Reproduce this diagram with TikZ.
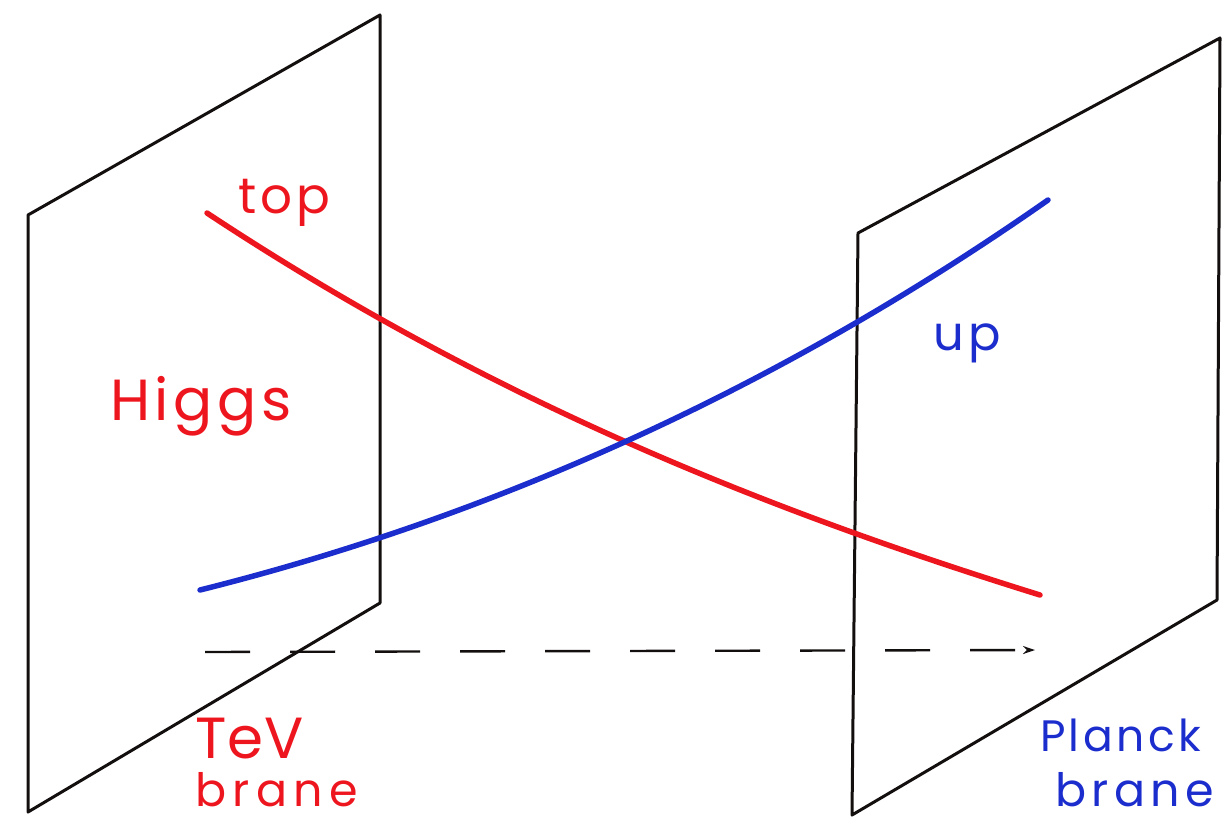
\documentclass[tikz,border=0pt]{standalone}
\usepackage{fontspec}
\setmainfont{Poppins}
\usetikzlibrary{arrows.meta}
\definecolor{pen}{RGB}{20,15,15}
\definecolor{redink}{RGB}{238,22,30}
\definecolor{blueink}{RGB}{28,45,205}
\newcommand\hw[3]{\fontsize{#1}{#1}\selectfont\addfontfeatures{LetterSpace=#2}#3}
\begin{document}
\begin{tikzpicture}[x=1pt,y=-1pt,
  plane/.style={draw=pen,line width=3pt,line join=round},
  field/.style={line width=5.5pt,line cap=round},
  lab/.style={anchor=base west,inner sep=0pt,outer sep=0pt},
  gap/.style={draw=pen,line width=2.4pt,dash pattern=on 45pt off 40pt,-{Stealth[length=12pt,width=8pt]}}]
\useasboundingbox (0,0) rectangle (1226,823);
% TeV brane
\coordinate (t1) at (28,215);
\coordinate (t2) at (380,15);
\coordinate (t3) at (380,603);
\coordinate (t4) at (28,812);
% Planck brane
\coordinate (p1) at (858,233);
\coordinate (p2) at (1220,38);
\coordinate (p3) at (1217,600);
\coordinate (p4) at (852,815);
\draw[plane] (t1) -- (t2) -- (t3) -- (t4) -- cycle;
\draw[plane] (p1) -- (p2) -- (p3) -- (p4) -- cycle;
% profiles
\coordinate (r0) at (207,213);
\coordinate (r1) at (1040,595);
\coordinate (b0) at (200,590);
\coordinate (b1) at (1048,200);
\draw[field,redink] (r0) .. controls (487,398) and (760,508) .. (r1);
\draw[field,blueink] (b0) .. controls (480,520) and (768,396) .. (b1);
% extra dimension
\coordinate (d0) at (205,652);
\coordinate (d1) at (1035,650);
\draw[gap] (d0) -- (d1);
% labels
\node[lab,redink] (top) at (238,213) {\hw{50}{8}{top}};
\node[lab,redink] (higgs) at (110,420) {\hw{58}{8}{Higgs}};
\node[lab,blueink] (up) at (933,350) {\hw{48}{10}{up}};
\node[lab,redink] (tev) at (195,758) {\hw{58}{2}{TeV}};
\node[lab,redink,text depth=0pt] (tevb) at (195,806) {\hw{46}{14}{brane}};
\node[lab,blueink] (planck) at (1040,751) {\hw{44}{8}{Planck}};
\node[lab,blueink,text depth=0pt] (planckb) at (1055,806) {\hw{46}{12}{brane}};
\end{tikzpicture}
\end{document}
